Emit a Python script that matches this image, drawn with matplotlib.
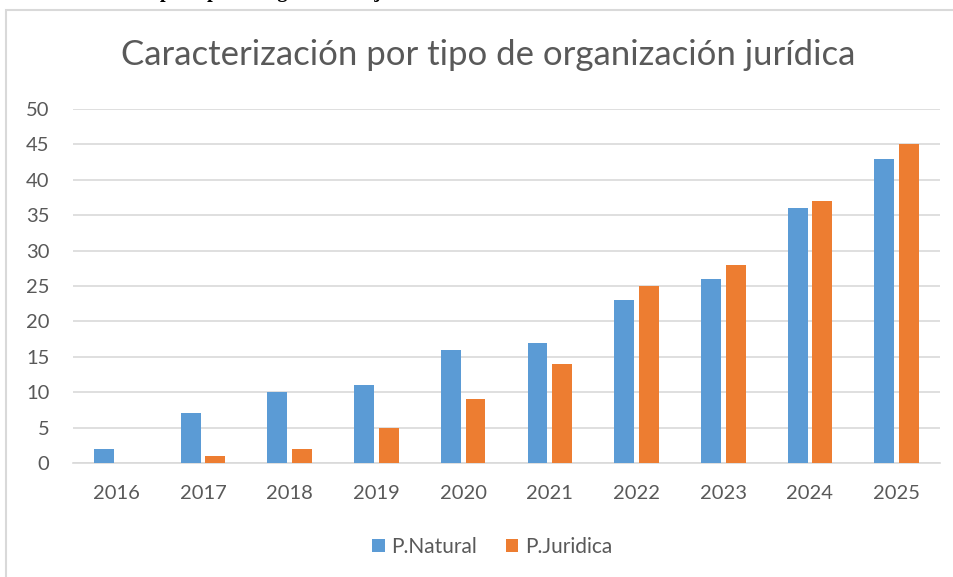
import matplotlib
matplotlib.use("Agg")
import matplotlib.pyplot as plt
from matplotlib.patches import Rectangle
import numpy as np

years = ["2016", "2017", "2018", "2019", "2020", "2021", "2022", "2023", "2024", "2025"]
natural = [2, 7, 10, 11, 16, 17, 23, 26, 36, 43]
juridica = [0, 1, 2, 5, 9, 14, 25, 28, 37, 45]
yticks = [0, 5, 10, 15, 20, 25, 30, 35, 40, 45, 50]

W, H = 954, 577
fig = plt.figure(figsize=(W / 100, H / 100), dpi=100)
fig.patch.set_facecolor("white")

# Chart frame
fig.patches.append(Rectangle((6 / W, -0.05), 1.1, 1 - 10 / H + 0.05, transform=fig.transFigure,
                             fill=False, edgecolor="#d9d9d9", lw=1.5))

# Cropped heading above the chart (only descenders visible)
fig.text(160 / W, 1 + 2.5 / H, "por tipo de organización jurídica", family="Liberation Serif",
         fontweight="bold", fontsize=14.5, ha="left", va="baseline", color="black")

ax = fig.add_axes([73 / W, 1 - 463 / H, (940 - 73) / W, (463 - 109) / H])
x = np.arange(len(years))
bw = 0.23
gap = 0.055
ax.bar(x - (bw + gap) / 2, natural, bw, color="#5b9bd5", label="P.Natural", zorder=3)
ax.bar(x + (bw + gap) / 2, juridica, bw, color="#ed7d31", label="P.Juridica", zorder=3)

ax.set_xlim(-0.5, len(years) - 0.5)
ax.set_ylim(0, 50)
ax.set_yticks(yticks)
ax.set_xticks(x)
ax.set_xticklabels(years)
ax.grid(axis="y", color="#d9d9d9", lw=1.2, zorder=0)
for s in ["top", "right", "left"]:
    ax.spines[s].set_visible(False)
ax.spines["bottom"].set_color("#d9d9d9")
ax.spines["bottom"].set_linewidth(1.2)
ax.tick_params(length=0, labelsize=14.5, colors="#595959", labelfontfamily="Lato")
ax.tick_params(axis="x", pad=16)
ax.tick_params(axis="y", pad=17)

fig.text(488 / W, 1 - 55 / H, "Caracterización por tipo de organización jurídica",
         family="Lato", fontsize=25, color="#595959", ha="center", va="center")

leg = fig.legend(loc="center", bbox_to_anchor=(492 / W, 1 - 547 / H), ncol=2, frameon=False,
                 prop={"family": "Lato", "size": 15}, handlelength=0.6, handleheight=0.6,
                 columnspacing=1.4, handletextpad=0.3)
for t in leg.get_texts():
    t.set_color("#595959")

fig.savefig("out.png", dpi=100)
